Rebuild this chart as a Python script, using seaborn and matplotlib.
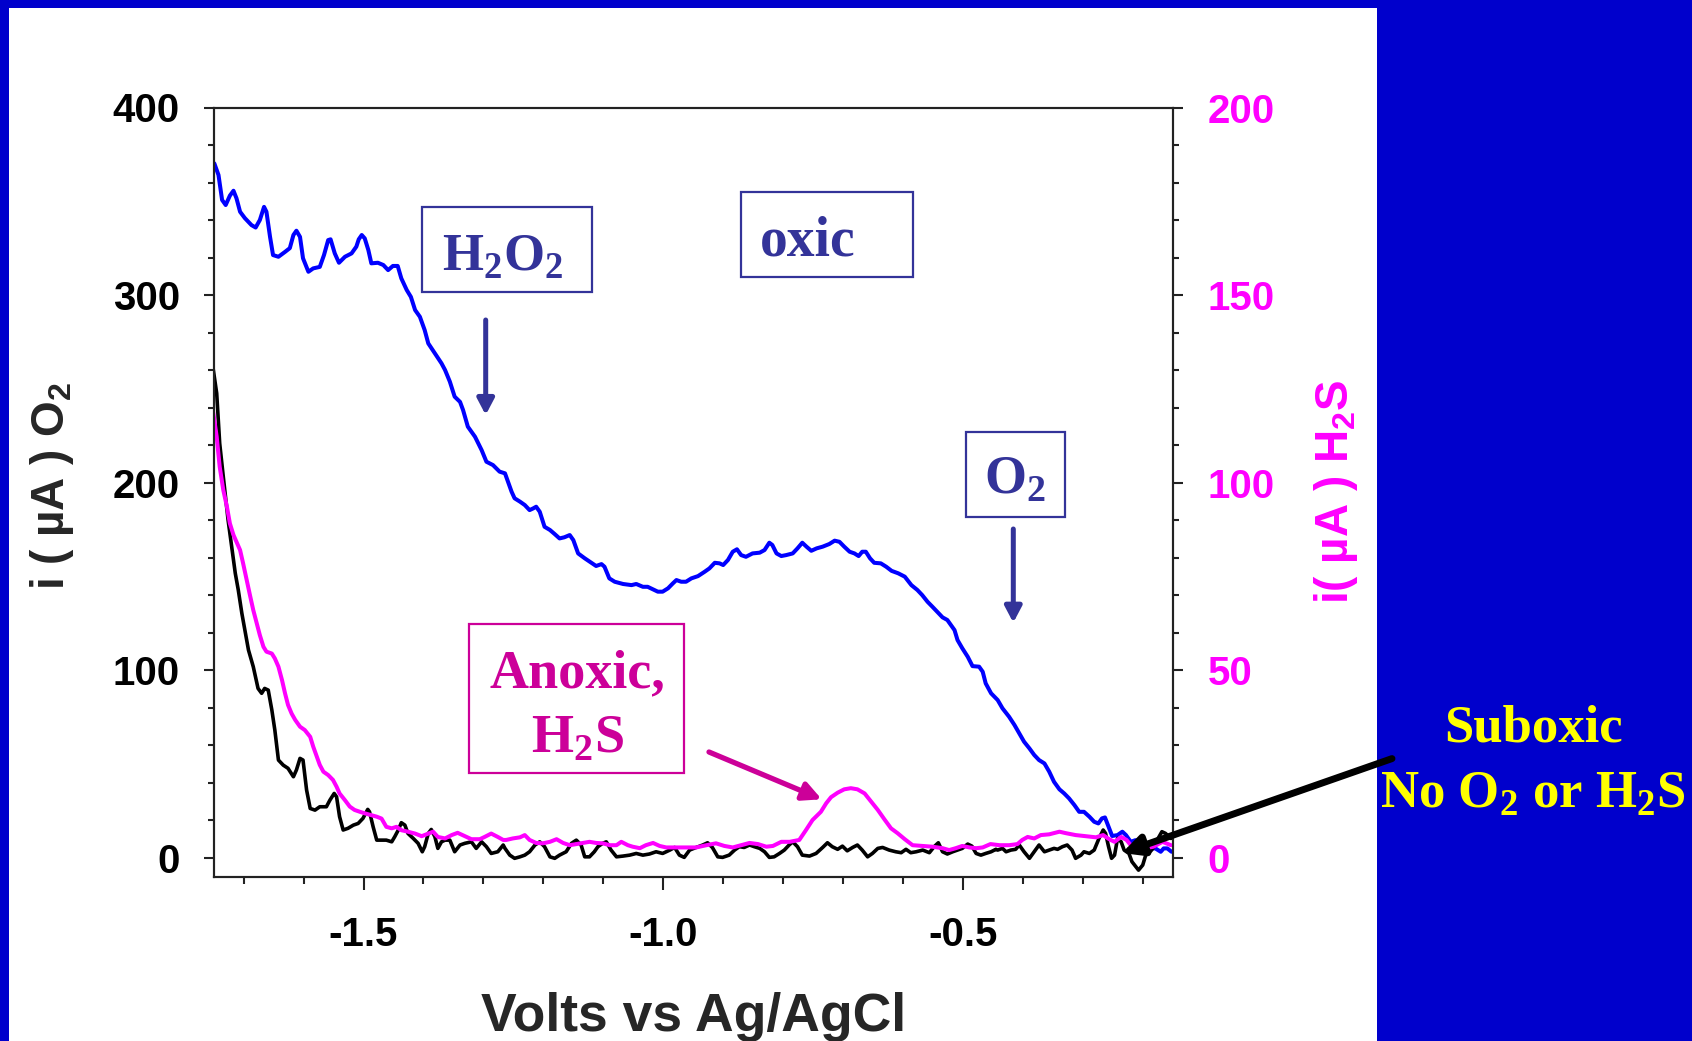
import matplotlib
matplotlib.use("Agg")
import matplotlib.pyplot as plt
import numpy as np
import pandas as pd
import seaborn as sns
from matplotlib.patches import Rectangle, FancyArrowPatch
from matplotlib.ticker import MultipleLocator, FormatStrFormatter

# Voltammogram traces: (potential in V vs Ag/AgCl, current in uA)
oxic_scan = [
    (-1.749, 370.2), (-1.742, 364), (-1.736, 350.7), (-1.730, 348), (-1.723, 353), (-1.717, 355.6),
    (-1.712, 351.6), (-1.706, 344.4), (-1.698, 341), (-1.687, 337.3), (-1.680, 336), (-1.673, 340),
    (-1.666, 347), (-1.662, 344.4), (-1.656, 331), (-1.651, 321.3), (-1.642, 320.4), (-1.631, 323),
    (-1.623, 325), (-1.617, 332), (-1.612, 334.3), (-1.606, 331), (-1.601, 319.6), (-1.592, 312.4),
    (-1.584, 314.2), (-1.573, 315), (-1.566, 321.3), (-1.559, 329.3), (-1.555, 329.7), (-1.548, 322.2),
    (-1.541, 317.2), (-1.531, 320.4), (-1.520, 322.2), (-1.512, 325.8), (-1.508, 329.7), (-1.503, 332),
    (-1.498, 330.2), (-1.492, 324), (-1.487, 316.9), (-1.476, 317.2), (-1.467, 316), (-1.459, 313.3),
    (-1.451, 315.5), (-1.443, 315.5), (-1.437, 308.9), (-1.428, 302.7), (-1.421, 299), (-1.414, 292),
    (-1.406, 288.4), (-1.398, 281.3), (-1.392, 274.2), (-1.381, 268.9), (-1.370, 263.6), (-1.364, 260),
    (-1.356, 253.8), (-1.348, 245.8), (-1.339, 243), (-1.334, 238.7), (-1.326, 229.8), (-1.314, 224.4),
    (-1.303, 217.3), (-1.295, 211.1), (-1.284, 209.3), (-1.273, 205.8), (-1.264, 204.9), (-1.259, 200.4),
    (-1.253, 195.1), (-1.248, 191.6), (-1.239, 189.8), (-1.231, 188), (-1.223, 185.3), (-1.217, 186.2),
    (-1.212, 187.1), (-1.206, 184.4), (-1.198, 176.4), (-1.189, 174.7), (-1.181, 172.5), (-1.173, 170.2),
    (-1.165, 170.8), (-1.156, 172), (-1.150, 169.3), (-1.142, 162.2), (-1.131, 159.6), (-1.120, 157.2),
    (-1.112, 155.5), (-1.103, 156.5), (-1.098, 155.1), (-1.090, 148.9), (-1.081, 147.1), (-1.067, 145.9),
    (-1.053, 145.3), (-1.045, 145.9), (-1.034, 144.4), (-1.026, 144.4), (-1.017, 143), (-1.009, 141.8),
    (-1.001, 141.8), (-0.992, 143.6), (-0.984, 146.2), (-0.978, 148), (-0.970, 147.1), (-0.962, 147.1),
    (-0.953, 148.9), (-0.942, 150.1), (-0.931, 152.4), (-0.923, 154.2), (-0.914, 157.2), (-0.906, 156.9),
    (-0.900, 156), (-0.892, 158.7), (-0.884, 163.1), (-0.877, 164.4), (-0.870, 161.3), (-0.862, 160.4),
    (-0.851, 162.2), (-0.839, 162.6), (-0.831, 164), (-0.823, 167.9), (-0.818, 166.7), (-0.811, 162.2),
    (-0.803, 160.8), (-0.795, 161.3), (-0.784, 162.2), (-0.776, 164.9), (-0.768, 167.9), (-0.761, 165.8),
    (-0.753, 163.6), (-0.744, 164.9), (-0.734, 165.8), (-0.723, 167.2), (-0.714, 169), (-0.706, 168.4),
    (-0.698, 165.8), (-0.689, 163.1), (-0.681, 162.2), (-0.674, 160.8), (-0.668, 163.1), (-0.662, 163.1),
    (-0.655, 159.6), (-0.648, 157.2), (-0.637, 156.9), (-0.628, 155.1), (-0.619, 152.9), (-0.608, 151.6),
    (-0.597, 149.8), (-0.586, 145.3), (-0.576, 142.7), (-0.568, 140), (-0.559, 136.4), (-0.551, 133.8),
    (-0.543, 131.1), (-0.534, 128.1), (-0.526, 126.7), (-0.514, 121.3), (-0.509, 116), (-0.501, 111.6),
    (-0.492, 107.1), (-0.484, 102.1), (-0.473, 101.8), (-0.467, 99.1), (-0.462, 92.9), (-0.453, 87.6),
    (-0.442, 84), (-0.434, 79.6), (-0.423, 75.1), (-0.414, 70.7), (-0.406, 66.2), (-0.398, 61.8),
    (-0.389, 58.2), (-0.381, 54.7), (-0.373, 52), (-0.364, 50.2), (-0.356, 45.8), (-0.348, 40.4),
    (-0.339, 36.4), (-0.331, 34.2), (-0.323, 31.6), (-0.314, 28), (-0.306, 24.4), (-0.298, 24.4),
    (-0.289, 21.8), (-0.281, 19.1), (-0.274, 18.2), (-0.268, 20.9), (-0.263, 21.4), (-0.257, 16.4),
    (-0.251, 11.5), (-0.242, 12), (-0.234, 13.8), (-0.228, 12), (-0.220, 8.4), (-0.212, 9.3),
    (-0.204, 8.4), (-0.196, 4.9), (-0.187, 4.9), (-0.179, 4.9), (-0.170, 3.1), (-0.165, 4.9),
    (-0.159, 4.9), (-0.152, 3.1),
]

suboxic_scan = [
    (-1.751, 260.9), (-1.745, 247.6), (-1.740, 220.9), (-1.734, 203.1), (-1.726, 180), (-1.720, 165.8),
    (-1.714, 151.6), (-1.709, 142.7), (-1.703, 130.2), (-1.698, 121.3), (-1.692, 110.7), (-1.684, 101.8),
    (-1.676, 90.2), (-1.670, 87.6), (-1.665, 90.2), (-1.659, 89.3), (-1.653, 78.7), (-1.648, 68),
    (-1.642, 52), (-1.634, 49.3), (-1.626, 47.6), (-1.617, 43.1), (-1.612, 46.7), (-1.606, 52.9),
    (-1.601, 52), (-1.595, 36), (-1.589, 26.2), (-1.581, 25.3), (-1.573, 27.1), (-1.562, 27.1),
    (-1.556, 30.7), (-1.549, 34.2), (-1.545, 32.4), (-1.540, 21.8), (-1.534, 14.7), (-1.526, 15.6),
    (-1.517, 17.3), (-1.509, 18.2), (-1.501, 20.9), (-1.493, 25.7), (-1.490, 24.4), (-1.484, 16.4),
    (-1.478, 9.3), (-1.470, 9.3), (-1.462, 9.3), (-1.453, 8.4), (-1.448, 11.1), (-1.442, 14.7),
    (-1.437, 18.6), (-1.431, 17.3), (-1.426, 12.9), (-1.417, 10.2), (-1.409, 7.6), (-1.402, 3.1),
    (-1.398, 5.8), (-1.392, 12.9), (-1.387, 15), (-1.381, 11.1), (-1.376, 4.9), (-1.370, 8.4),
    (-1.364, 9.3), (-1.356, 9.3), (-1.348, 3.1), (-1.339, 6.7), (-1.331, 7.6), (-1.320, 8.4),
    (-1.312, 4.9), (-1.303, 8.4), (-1.295, 5.8), (-1.287, 2.2), (-1.276, 3.1), (-1.267, 6.7),
    (-1.264, 4.9), (-1.256, 1.3), (-1.248, -0.4), (-1.239, 0.4), (-1.231, 1.3), (-1.223, 3.1),
    (-1.214, 6.7), (-1.206, 8.4), (-1.198, 5.8), (-1.189, 0.4), (-1.181, -0.4), (-1.173, 1.3),
    (-1.162, 3.1), (-1.153, 7.6), (-1.145, 9.3), (-1.137, 6.7), (-1.131, 0.4), (-1.123, 0.4),
    (-1.115, 3.1), (-1.109, 5.8), (-1.101, 7.6), (-1.095, 8.4), (-1.087, 4), (-1.078, 0.4),
    (-1.067, 0.8), (-1.056, 1.3), (-1.045, 2.2), (-1.034, 1.3), (-1.023, 1.9), (-1.012, 3.1),
    (-1.001, 2.2), (-0.989, 4), (-0.981, 5.4), (-0.973, 1.3), (-0.965, 0.1), (-0.956, 4),
    (-0.945, 5.4), (-0.934, 6.7), (-0.926, 7.9), (-0.918, 5.4), (-0.909, 0.4), (-0.901, 0.1),
    (-0.890, 1.3), (-0.881, 4), (-0.873, 5.8), (-0.865, 5.4), (-0.856, 6.7), (-0.848, 5.8),
    (-0.839, 4.9), (-0.831, 3.1), (-0.823, 0.1), (-0.815, 0.4), (-0.806, 2.2), (-0.798, 4),
    (-0.790, 6.7), (-0.784, 8.4), (-0.776, 5.8), (-0.768, 1.3), (-0.756, 0.8), (-0.745, 2.2),
    (-0.734, 5.4), (-0.726, 7.9), (-0.718, 5.8), (-0.709, 4.4), (-0.701, 6.1), (-0.693, 3.6),
    (-0.684, 5.4), (-0.676, 6.7), (-0.668, 4), (-0.659, 0.4), (-0.651, 2.2), (-0.642, 4.9),
    (-0.634, 5.4), (-0.623, 4), (-0.612, 3.1), (-0.603, 2.6), (-0.595, 4.4), (-0.587, 2.6),
    (-0.578, 3.1), (-0.567, 4), (-0.556, 2.6), (-0.548, 5.8), (-0.541, 7.9), (-0.534, 3.1),
    (-0.526, 1.9), (-0.517, 3.1), (-0.509, 4), (-0.501, 4.9), (-0.492, 7.2), (-0.485, 6.1),
    (-0.478, 2.2), (-0.470, 1.3), (-0.462, 2.2), (-0.453, 3.1), (-0.445, 4.4), (-0.442, 4),
    (-0.434, 4.9), (-0.428, 3.1), (-0.420, 4), (-0.412, 4.4), (-0.406, 6.7), (-0.398, 3.1),
    (-0.389, -0.4), (-0.381, 3.1), (-0.373, 6.7), (-0.364, 3.1), (-0.356, 4), (-0.348, 4.9),
    (-0.342, 4.4), (-0.334, 5.8), (-0.326, 6.7), (-0.318, 4), (-0.312, -0.4), (-0.303, 1.3),
    (-0.298, 3.1), (-0.289, 2.2), (-0.281, 4), (-0.273, 10.2), (-0.266, 14.7), (-0.262, 12.9),
    (-0.257, 5.8), (-0.252, -0.4), (-0.247, 1.3), (-0.242, 10.2), (-0.236, 8.4), (-0.231, 4),
    (-0.223, 2.2), (-0.218, -2.2), (-0.207, -6.7), (-0.200, -4), (-0.195, 1.3), (-0.190, 2.2),
    (-0.183, 4.9), (-0.176, 9.3), (-0.168, 13.8), (-0.162, 12.9), (-0.153, 10.2),
]

anoxic_scan = [
    (-1.751, 118.9), (-1.745, 112.2), (-1.740, 104.2), (-1.734, 98), (-1.728, 93.6), (-1.723, 89.1),
    (-1.717, 86), (-1.712, 84.2), (-1.706, 82), (-1.701, 78.5), (-1.695, 74), (-1.689, 69.6),
    (-1.684, 66), (-1.678, 62.4), (-1.673, 59.3), (-1.667, 56.2), (-1.662, 54.9), (-1.653, 54.4),
    (-1.648, 53.1), (-1.642, 50.9), (-1.636, 47.3), (-1.631, 43.8), (-1.626, 40.7), (-1.620, 38.4),
    (-1.614, 36.7), (-1.606, 34.9), (-1.598, 34), (-1.589, 32.2), (-1.584, 29.6), (-1.578, 26.9),
    (-1.573, 24.7), (-1.567, 22.9), (-1.559, 22), (-1.551, 20.7), (-1.545, 18.9), (-1.540, 17.1),
    (-1.531, 15.3), (-1.523, 13.6), (-1.515, 12.7), (-1.506, 12.2), (-1.498, 11.8), (-1.487, 11.3),
    (-1.478, 10.9), (-1.470, 10.4), (-1.462, 8.2), (-1.453, 7.8), (-1.445, 8.2), (-1.437, 7.3),
    (-1.426, 6.9), (-1.414, 6.4), (-1.403, 5.7), (-1.392, 6.4), (-1.384, 6.9), (-1.376, 5.5),
    (-1.364, 5.1), (-1.353, 6), (-1.343, 6.6), (-1.331, 5.7), (-1.320, 4.9), (-1.306, 4.9),
    (-1.298, 5.5), (-1.287, 6.4), (-1.276, 5.5), (-1.267, 4.7), (-1.262, 4.7), (-1.251, 5.1),
    (-1.239, 5.4), (-1.231, 6), (-1.223, 4.7), (-1.212, 3.9), (-1.201, 3.8), (-1.189, 4.2),
    (-1.178, 4.9), (-1.167, 3.9), (-1.156, 3.3), (-1.145, 3.6), (-1.134, 3.9), (-1.123, 4.2),
    (-1.112, 3.9), (-1.101, 3.8), (-1.089, 3.3), (-1.078, 3.3), (-1.070, 4.2), (-1.059, 3.3),
    (-1.051, 2.9), (-1.039, 2.5), (-1.029, 3.3), (-1.017, 3.9), (-1.006, 3.1), (-0.995, 2.7),
    (-0.978, 2.7), (-0.962, 2.7), (-0.945, 2.7), (-0.928, 3.3), (-0.912, 3.8), (-0.898, 3.1),
    (-0.884, 2.7), (-0.870, 3.3), (-0.856, 3.9), (-0.842, 3.6), (-0.828, 2.9), (-0.817, 3.1),
    (-0.803, 4.2), (-0.789, 4.2), (-0.773, 4.7), (-0.762, 7.3), (-0.751, 10), (-0.737, 12.2),
    (-0.728, 14.5), (-0.720, 16.1), (-0.709, 17.3), (-0.698, 18.2), (-0.687, 18.5), (-0.676, 18.2),
    (-0.664, 17.1), (-0.653, 14.9), (-0.642, 12.7), (-0.631, 10.2), (-0.620, 7.8), (-0.609, 6.5),
    (-0.597, 4.9), (-0.584, 3.3), (-0.567, 3.1), (-0.551, 2.9), (-0.534, 2.5), (-0.523, 2),
    (-0.512, 2.5), (-0.501, 3.1), (-0.489, 2.7), (-0.478, 2.5), (-0.467, 2.7), (-0.454, 3.6),
    (-0.439, 3.3), (-0.423, 3.3), (-0.409, 3.6), (-0.401, 4.7), (-0.392, 5.5), (-0.381, 5.1),
    (-0.370, 6), (-0.356, 6.2), (-0.339, 6.9), (-0.328, 6.5), (-0.312, 6), (-0.295, 5.7),
    (-0.278, 5.4), (-0.266, 6), (-0.256, 4.9), (-0.247, 4.2), (-0.236, 5.5), (-0.227, 4.7),
    (-0.220, 3.3), (-0.208, 2.7), (-0.195, 2.5), (-0.182, 2.9), (-0.167, 4.2), (-0.153, 3.3),
]

x_ticks = [-1.5, -1.0, -0.5]
o2_ticks = [0, 100, 200, 300, 400]
h2s_ticks = [0, 50, 100, 150, 200]

# ---------------------------------------------------------------- styling
sns.set_style("ticks")
plt.rcParams.update({
    "font.family": ["Liberation Sans", "DejaVu Sans"],
    "font.weight": "bold",
    "axes.unicode_minus": False,
    "mathtext.fontset": "custom",
    "mathtext.rm": "Liberation Serif:bold",
    "mathtext.bf": "Liberation Serif:bold",
    "mathtext.sf": "Liberation Sans:bold",
})

SLIDE_BLUE = "#0000CC"
NAVY = "#333399"
PLUM = "#CC0099"
MAGENTA = "#FF00FF"
SPINE = "#222222"
SERIF = ["Liberation Serif", "DejaVu Serif"]

W, H = 1692, 1041
fig = plt.figure(figsize=(W / 100, H / 100), dpi=100, facecolor=SLIDE_BLUE)


def fxy(px, py):
    """Pixel position measured from the top-left corner -> figure fraction."""
    return px / W, 1 - py / H


# white slide panel
fig.add_artist(Rectangle(fxy(9, H), (1377 - 9) / W, (H - 8) / H,
                         transform=fig.transFigure, facecolor="white",
                         edgecolor="none", zorder=-1))

ax = fig.add_axes([213.7 / W, 1 - 876.7 / H, 959 / W, 769.2 / H])

df_oxic = pd.DataFrame(oxic_scan, columns=["volts", "current"])
df_sub = pd.DataFrame(suboxic_scan, columns=["volts", "current"])
df_anox = pd.DataFrame(anoxic_scan, columns=["volts", "current"])

sns.lineplot(data=df_oxic, x="volts", y="current", ax=ax, color="#0000FF",
             lw=2.9, estimator=None, sort=False)
sns.lineplot(data=df_sub, x="volts", y="current", ax=ax, color="black",
             lw=2.6, estimator=None, sort=False)

ax2 = ax.twinx()
sns.lineplot(data=df_anox, x="volts", y="current", ax=ax2, color=MAGENTA,
             lw=2.9, estimator=None, sort=False)

ax.set_xlim(-1.75, -0.15)
ax.set_ylim(-10.2, 400)
ax2.set_ylim(-5.1, 200)

ax.set_xticks(x_ticks)
ax.xaxis.set_minor_locator(MultipleLocator(0.1))
ax.xaxis.set_major_formatter(FormatStrFormatter("%.1f"))
ax.set_yticks(o2_ticks)
ax.yaxis.set_minor_locator(MultipleLocator(20))
ax2.set_yticks(h2s_ticks)
ax2.yaxis.set_minor_locator(MultipleLocator(10))

for a in (ax, ax2):
    for s in a.spines.values():
        s.set_visible(True)
        s.set_color(SPINE)
        s.set_linewidth(1.5)

ax.tick_params(axis="y", which="both", left=True, right=False, direction="out",
               color=SPINE, width=1.5)
ax.tick_params(axis="y", which="major", length=7.5, labelsize=29, pad=17,
               labelcolor="black")
ax.tick_params(axis="y", which="minor", length=4.5)
ax.tick_params(axis="x", which="both", bottom=True, top=False, direction="out",
               color=SPINE, width=1.5)
ax.tick_params(axis="x", which="major", length=9, labelsize=29, pad=19,
               labelcolor="black")
ax.tick_params(axis="x", which="minor", length=5)

ax2.tick_params(axis="y", which="both", right=True, left=False, direction="out",
                color=SPINE, width=1.5)
ax2.tick_params(axis="y", which="major", length=7.5, labelsize=29, pad=17.5,
                labelcolor=MAGENTA)
ax2.tick_params(axis="y", which="minor", length=4.5)

ax.set_xlabel("Volts vs Ag/AgCl", fontsize=38.5, fontweight="bold", va="center")
ax.xaxis.set_label_coords(0.5, (876.7 - 1017) / 769.2)
ax.set_ylabel(r"i ( µA ) O$_\mathsf{2}$", fontsize=33, fontweight="bold",
              va="center", ha="center")
ax.yaxis.set_label_coords((52 - 213.7) / 959, (876.7 - 486) / 769.2)
ax2.set_ylabel(r"i( µA ) H$_\mathsf{2}$S", fontsize=33, fontweight="bold",
               color=MAGENTA, va="center", ha="center", rotation=90)
ax2.yaxis.set_label_coords((1336 - 213.7) / 959, (876.7 - 492) / 769.2)


# ---------------------------------------------------------------- annotations
def frame(x0, y0, x1, y1, color):
    fig.add_artist(Rectangle(fxy(x0, y1), (x1 - x0) / W, (y1 - y0) / H,
                             transform=fig.transFigure, fill=False,
                             edgecolor=color, lw=1.6, zorder=5))


def label(px, py, s, color, size=40):
    fig.text(*fxy(px, py), s, ha="center", va="baseline", fontsize=size,
             color=color, family=SERIF, fontweight="bold", zorder=6)


def pointer(p0, p1, color, lw, hl, hw):
    fig.add_artist(FancyArrowPatch(fxy(*p0), fxy(*p1), transform=fig.transFigure,
                                   arrowstyle=f"-|>,head_length={hl},head_width={hw}",
                                   mutation_scale=10, lw=lw, color=color,
                                   shrinkA=0, shrinkB=0, zorder=7))


frame(422, 207, 592, 292, NAVY)
label(503, 270, r"H$_\mathbf{2}$O$_\mathbf{2}$", NAVY, 38)
pointer((485.7, 320), (485.7, 415), NAVY, 3.6, 0.95, 0.5)

frame(741, 192, 913, 277, NAVY)
label(808, 255, "oxic", NAVY)

frame(966, 432, 1065, 517, NAVY)
label(1015, 493, r"O$_\mathbf{2}$", NAVY, 39)
pointer((1013.3, 529), (1013.3, 622.7), NAVY, 3.6, 0.95, 0.5)

frame(469, 624, 684, 773, PLUM)
label(577, 687, "Anoxic,", PLUM, 39)
label(577, 752, r"H$_\mathbf{2}$S", PLUM, 39)
pointer((709, 752), (821.7, 799.3), PLUM, 3.8, 1.1, 0.55)

label(1533, 742, "Suboxic", "#FFFF00", 38)
label(1533, 807, r"No O$_\mathbf{2}$ or H$_\mathbf{2}$S", "#FFFF00", 38)
pointer((1392, 758.6), (1122, 853), "black", 5.0, 1.2, 0.6)

fig.savefig("out.png", dpi=100, facecolor=fig.get_facecolor())
